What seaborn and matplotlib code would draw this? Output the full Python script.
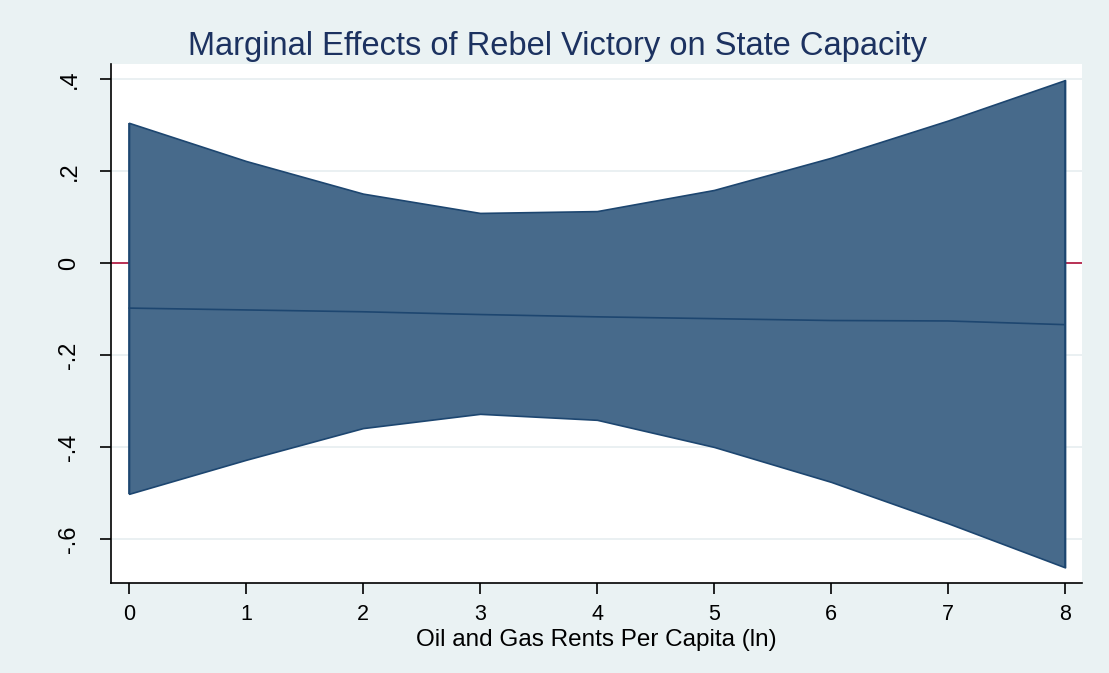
import numpy as np
import pandas as pd
import seaborn as sns
import matplotlib.pyplot as plt

# values
rents = [0, 1, 2, 3, 4, 5, 6, 7, 8]
effect = [-0.098, -0.102, -0.106, -0.112, -0.117, -0.121, -0.125, -0.126, -0.134]
upper = [0.305, 0.222, 0.151, 0.109, 0.113, 0.159, 0.229, 0.310, 0.398]
lower = [-0.502, -0.428, -0.359, -0.328, -0.341, -0.400, -0.476, -0.566, -0.662]
yticks = [-0.6, -0.4, -0.2, 0, 0.2, 0.4]
ytick_labels = ['-.6', '-.4', '-.2', '0', '.2', '.4']

df = pd.DataFrame({'rents': rents, 'effect': effect, 'upper': upper, 'lower': lower})

sns.set_style('white')
plt.rcParams['font.family'] = ['Liberation Sans', 'DejaVu Sans']

bg = '#eaf2f3'
band = '#476a8b'
edge = '#1d4670'

fig = plt.figure(figsize=(11.09, 6.73), dpi=100, facecolor=bg)
ax = fig.add_axes([111 / 1109, 1 - 583 / 673, (1082 - 111) / 1109, (583 - 64) / 673])
ax.set_facecolor('white')

# grid and zero reference line
for t in yticks:
    ax.axhline(t, color='#e6eef0', lw=1.2, zorder=0)
ax.axhline(0, color='#b0103a', lw=1.2, zorder=1)

ax.fill_between(df['rents'], df['lower'], df['upper'], facecolor=band,
                edgecolor=edge, lw=1.2, zorder=2)
ax.vlines([rents[0], rents[-1]], [lower[0], lower[-1]], [upper[0], upper[-1]],
          color=edge, lw=1.2, zorder=3)
sns.lineplot(data=df, x='rents', y='effect', color=edge, lw=1.2, ax=ax, zorder=3)

ax.set_xlim(-0.154, 8.145)
ax.set_ylim(-0.696, 0.433)
ax.set_xticks(rents)
ax.set_yticks(yticks)
ax.set_yticklabels(ytick_labels, rotation=90, va='center')
ax.tick_params(axis='both', direction='out', length=8, width=1.2, color='black',
               labelcolor='black', left=True, bottom=True)
ax.tick_params(axis='x', labelsize=15.5, pad=7)
ax.tick_params(axis='y', labelsize=17, pad=14)

for side in ['top', 'right']:
    ax.spines[side].set_visible(False)
for side in ['left', 'bottom']:
    ax.spines[side].set_color('black')
    ax.spines[side].set_linewidth(1.2)

ax.set_xlabel('Oil and Gas Rents Per Capita (ln)', fontsize=17.5, labelpad=3,
              color='black')
ax.set_ylabel('')
fig.text(0.503, 0.931, 'Marginal Effects of Rebel Victory on State Capacity',
         ha='center', va='center', fontsize=23.5, color='#1c3260')

fig.savefig('out.png', dpi=100, facecolor=bg)
